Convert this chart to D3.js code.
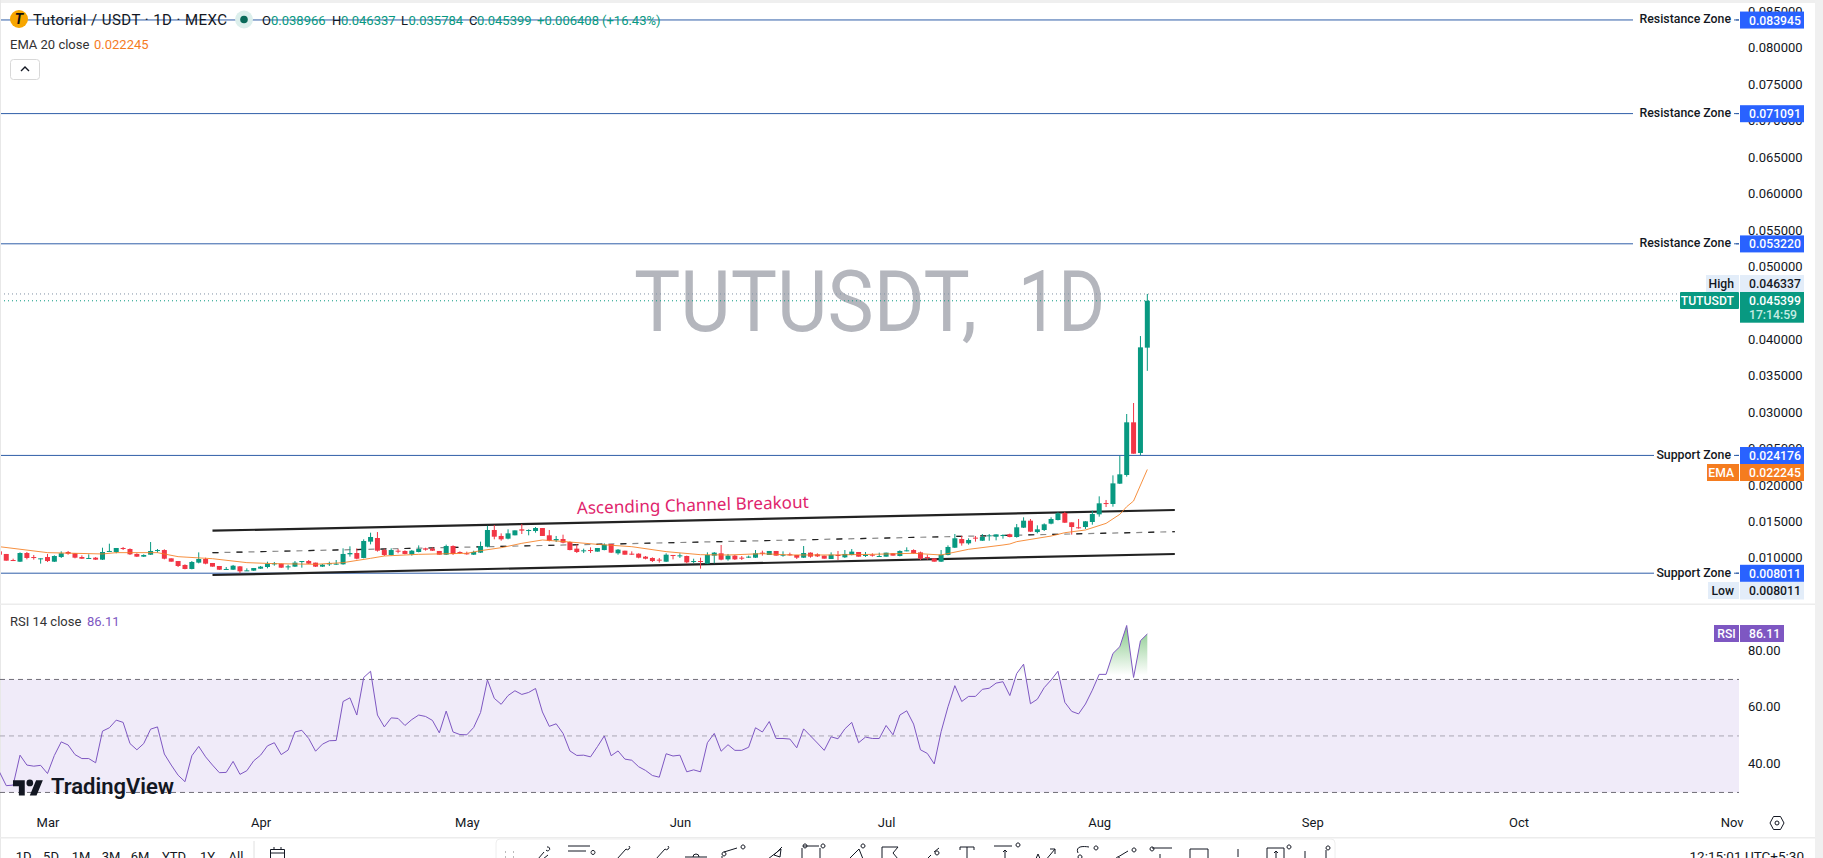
<!DOCTYPE html>
<html lang="en">
<head>
  <meta charset="UTF-8" />
  <title>TUTUSDT 1D</title>
  <script src="https://d3js.org/d3.v7.min.js"></script>
  <style>
    html, body { margin: 0; background: #fff; overflow: hidden; }
    svg { display: block; font-family: Roboto, sans-serif; }
    .axis path, .axis line { display: none; }
    .axis text { font-family: Roboto, sans-serif; font-size: 13px; fill: #131722; }
  </style>
</head>
<body>
<svg width="1823" height="858"></svg>
<script>
  // daily candles, 22 Feb to 8 Aug
  const firstDay = new Date(Date.UTC(2025, 1, 22));
  const lastDay = new Date(Date.UTC(2025, 7, 9));

  const opens = [
    0.01101,0.01065,0.00982,0.00959,0.01078,0.01023,0.00996,0.01023,0.00959,0.01023,
    0.01092,0.01074,0.01023,0.01000,0.01014,0.00987,0.01097,0.01092,0.01147,0.01133,
    0.01065,0.01028,0.01055,0.01110,0.01119,0.01005,0.00968,0.00914,0.00859,0.00946,
    0.00996,0.00941,0.00900,0.00849,0.00849,0.00895,0.00831,0.00836,0.00863,0.00886,
    0.00927,0.00932,0.00886,0.00891,0.00959,0.00968,0.00946,0.00891,0.00927,0.00923,
    0.00923,0.01060,0.01078,0.01010,0.01234,0.01284,0.01119,0.01051,0.01110,0.01106,
    0.01060,0.01092,0.01142,0.01138,0.01106,0.01055,0.01174,0.01092,0.01074,0.01055,
    0.01083,0.01165,0.01394,0.01312,0.01275,0.01321,0.01403,0.01380,0.01380,0.01421,
    0.01321,0.01252,0.01270,0.01229,0.01138,0.01106,0.01119,0.01097,0.01119,0.01202,
    0.01074,0.01110,0.01069,0.01069,0.01028,0.01010,0.00987,0.00959,0.01051,0.01037,
    0.01037,0.00959,0.00968,0.00932,0.01042,0.01074,0.00991,0.01042,0.01014,0.01019,
    0.01014,0.01083,0.01051,0.01106,0.01046,0.01060,0.01051,0.01014,0.01083,0.01060,
    0.01042,0.00996,0.01051,0.01019,0.01051,0.01092,0.01037,0.01055,0.01028,0.01028,
    0.01074,0.01037,0.01106,0.01119,0.01087,0.01023,0.01005,0.00959,0.01051,0.01151,
    0.01270,0.01211,0.01289,0.01247,0.01312,0.01302,0.01316,0.01335,0.01298,0.01426,
    0.01522,0.01366,0.01394,0.01481,0.01531,0.01627,0.01499,0.01431,0.01435,0.01504,
    0.01609,0.01764,0.01751,0.02030,0.02149,0.02872,0.02451,0.038966
  ];
  const highs = [
    0.01101,0.01065,0.01000,0.01087,0.01092,0.01051,0.01005,0.01065,0.01046,0.01101,
    0.01106,0.01078,0.01046,0.01060,0.01023,0.01151,0.01206,0.01147,0.01161,0.01142,
    0.01074,0.01060,0.01229,0.01133,0.01129,0.01005,0.00968,0.00923,0.00968,0.01087,
    0.01014,0.00941,0.00900,0.00886,0.00914,0.00900,0.00868,0.00872,0.00900,0.00959,
    0.00955,0.00932,0.00918,0.00968,0.00968,0.00982,0.00946,0.00927,0.00959,0.00982,
    0.01142,0.01170,0.01142,0.01266,0.01357,0.01366,0.01138,0.01142,0.01133,0.01115,
    0.01119,0.01183,0.01151,0.01156,0.01106,0.01193,0.01183,0.01101,0.01097,0.01110,
    0.01234,0.01453,0.01462,0.01348,0.01403,0.01389,0.01476,0.01403,0.01435,0.01421,
    0.01394,0.01312,0.01330,0.01238,0.01197,0.01138,0.01156,0.01147,0.01211,0.01202,
    0.01133,0.01110,0.01101,0.01074,0.01037,0.01019,0.01010,0.01074,0.01051,0.01074,
    0.01042,0.01000,0.01014,0.01087,0.01092,0.01188,0.01065,0.01051,0.01037,0.01042,
    0.01119,0.01110,0.01106,0.01106,0.01101,0.01083,0.01051,0.01174,0.01087,0.01074,
    0.01042,0.01087,0.01106,0.01119,0.01133,0.01092,0.01092,0.01074,0.01083,0.01083,
    0.01074,0.01115,0.01156,0.01129,0.01097,0.01055,0.01005,0.01119,0.01183,0.01339,
    0.01312,0.01280,0.01312,0.01339,0.01339,0.01334,0.01335,0.01344,0.01476,0.01568,
    0.01545,0.01458,0.01485,0.01568,0.01636,0.01645,0.01499,0.01545,0.01517,0.01659,
    0.01856,0.01806,0.02144,0.02414,0.02986,0.03137,0.04056,0.046337
  ];
  const lows = [
    0.01055,0.00973,0.00968,0.00955,0.00991,0.00987,0.00932,0.00955,0.00955,0.01010,
    0.01055,0.01005,0.00996,0.00996,0.00982,0.00982,0.01097,0.01074,0.01119,0.01051,
    0.01023,0.01023,0.01051,0.01083,0.00991,0.00959,0.00886,0.00854,0.00854,0.00936,
    0.00923,0.00891,0.00845,0.00849,0.00845,0.008011,0.00831,0.00831,0.00859,0.00868,
    0.00904,0.00872,0.00849,0.00886,0.00877,0.00927,0.00886,0.00886,0.00900,0.00914,
    0.00918,0.01028,0.00991,0.01005,0.01197,0.01097,0.01037,0.01046,0.01074,0.01060,
    0.01042,0.01087,0.01110,0.01106,0.01055,0.01051,0.01051,0.01065,0.01055,0.01051,
    0.01078,0.01156,0.01266,0.01247,0.01266,0.01321,0.01339,0.01321,0.01357,0.01312,
    0.01238,0.01229,0.01211,0.01115,0.01078,0.01078,0.01078,0.01097,0.01115,0.01078,
    0.01055,0.01055,0.01051,0.01005,0.00991,0.00955,0.00946,0.00955,0.00991,0.01010,
    0.00936,0.00936,0.00863,0.00927,0.00936,0.00978,0.00973,0.00982,0.00982,0.01010,
    0.01010,0.01042,0.01051,0.01042,0.01028,0.01042,0.00996,0.01010,0.01014,0.01023,
    0.01000,0.00996,0.00982,0.01010,0.01046,0.01028,0.01023,0.01028,0.01023,0.01028,
    0.01042,0.01032,0.01101,0.01069,0.00982,0.00987,0.00959,0.00955,0.01046,0.01147,
    0.01179,0.01193,0.01234,0.01243,0.01247,0.01252,0.01275,0.01293,0.01289,0.01421,
    0.01366,0.01348,0.01380,0.01472,0.01526,0.01490,0.01330,0.01412,0.01408,0.01467,
    0.01577,0.01709,0.01714,0.02025,0.02126,0.02441,0.02423,0.035784
  ];
  const closes = [
    0.01055,0.00973,0.00973,0.01078,0.01010,0.01014,0.01005,0.00968,0.01037,0.01074,
    0.01069,0.01014,0.01000,0.01010,0.00987,0.01092,0.01106,0.01147,0.01133,0.01060,
    0.01028,0.01051,0.01106,0.01119,0.01000,0.00959,0.00900,0.00859,0.00955,0.00996,
    0.00932,0.00891,0.00849,0.00859,0.00904,0.00827,0.00840,0.00872,0.00891,0.00932,
    0.00936,0.00877,0.00895,0.00946,0.00968,0.00932,0.00891,0.00918,0.00936,0.00932,
    0.01065,0.01078,0.01000,0.01243,0.01298,0.01110,0.01051,0.01119,0.01101,0.01065,
    0.01110,0.01133,0.01124,0.01110,0.01055,0.01174,0.01065,0.01078,0.01065,0.01092,
    0.01174,0.01394,0.01302,0.01266,0.01348,0.01389,0.01385,0.01394,0.01421,0.01312,
    0.01247,0.01270,0.01220,0.01119,0.01092,0.01115,0.01110,0.01147,0.01193,0.01083,
    0.01124,0.01055,0.01060,0.01014,0.01000,0.00968,0.00978,0.01055,0.01042,0.01046,
    0.00950,0.00968,0.00959,0.01051,0.01083,0.00987,0.01042,0.00991,0.01005,0.01028,
    0.01074,0.01069,0.01106,0.01042,0.01055,0.01051,0.01014,0.01078,0.01028,0.01032,
    0.01000,0.01055,0.01042,0.01065,0.01097,0.01028,0.01055,0.01046,0.01037,0.01083,
    0.01042,0.01106,0.01115,0.01074,0.01000,0.01014,0.00959,0.01055,0.01161,0.01280,
    0.01211,0.01257,0.01280,0.01298,0.01321,0.01334,0.01325,0.01298,0.01431,0.01522,
    0.01371,0.01403,0.01472,0.01545,0.01623,0.01494,0.01435,0.01421,0.01513,0.01613,
    0.01760,0.01755,0.02034,0.02158,0.02872,0.02441,0.03901,0.045399
  ];

  // EMA read at the bends of the orange line (candle number, price)
  const emaAt = [0,7,15,17,23,26,31,36,40,46,50,54,56,61,68,70,73,76,79,83,87,92,97,102,106,111,115,121,127,133,137,141,146,147,148,153,155,158,161,163,164,165,167];
  const emaValues = [0.01165,0.01083,0.01065,0.01083,0.01083,0.01028,0.01000,0.00946,0.00932,0.00923,0.00946,0.01005,0.01037,0.01060,0.01074,0.01110,0.01151,0.01211,0.01257,0.01229,0.01197,0.01165,0.01097,0.01055,0.01051,0.01069,0.01051,0.01051,0.01060,0.01074,0.01051,0.01129,0.01188,0.01202,0.01234,0.01311,0.01357,0.01394,0.01485,0.01609,0.01714,0.01792,0.022245];

  const rsiValues = [
    37.3,32.4,32.6,43.2,39.7,39.3,39.6,36.7,43.1,47.9,
    46.8,43.4,42.0,42.0,40.5,51.7,52.9,55.6,54.8,47.3,
    45.1,47.3,52.4,53.2,43.6,39.7,36.1,33.8,43.0,46.3,
    42.6,39.7,37.0,37.1,41.0,36.4,37.7,41.2,43.2,46.5,
    47.6,43.4,45.0,51.4,52.0,49.1,44.6,47.1,48.3,48.4,
    62.2,63.5,57.4,70.7,72.9,57.4,53.2,56.4,56.2,53.7,
    55.8,57.4,56.9,55.5,51.1,58.8,51.4,50.5,50.4,53.0,
    58.3,69.8,63.3,61.2,64.3,66.0,64.7,65.4,66.8,58.5,
    53.4,54.3,50.9,44.7,43.1,43.2,42.6,46.2,50.0,43.0,
    44.7,41.8,41.4,39.1,37.8,36.0,35.4,43.7,42.9,43.2,
    37.3,38.0,37.3,47.6,50.9,44.6,46.9,44.9,44.9,46.0,
    52.9,51.4,55.1,49.1,49.1,48.9,45.8,52.5,50.0,47.5,
    44.9,49.7,49.0,52.5,54.8,47.6,49.6,49.1,49.1,53.7,
    50.4,57.4,58.9,54.2,45.1,43.8,40.1,51.5,60.3,67.8,
    62.2,64.0,64.0,66.5,66.9,68.7,69.2,64.3,72.1,75.4,
    61.4,63.0,67.1,69.8,72.9,61.9,58.7,57.8,61.3,66.2,
    71.8,71.8,79.2,81.6,89.1,70.7,83.7,86.11
  ];

  const priceTicks = [0.01,0.015,0.02,0.025,0.03,0.035,0.04,0.05,0.055,0.06,0.065,0.07,0.075,0.08,0.085];
  const rsiTicks = [40, 60, 80];
  const rsiLevels = [70, 50, 30];
  const zoneNames = ["Resistance Zone","Resistance Zone","Resistance Zone","Support Zone","Support Zone"];
  const zoneValues = [0.083945, 0.071091, 0.05322, 0.024176, 0.008011];
  const channelDays = [new Date(Date.UTC(2025, 2, 25)), new Date(Date.UTC(2025, 7, 12))];
  const channelUpper = [0.013843, 0.016684];
  const channelMiddle = [0.010824, 0.013706];
  const channelLower = [0.007763, 0.010645];
  const rangeButtons = ["1D","5D","1M","3M","6M","YTD","1Y","All"];

  const green = "#089981", red = "#f23645", blue = "#2962ff", orange = "#f57c1f", purple = "#7e57c2";
  const zoneLine = "#2f5ea8";

  const svg = d3.select("svg");
  const days = d3.utcDay.range(firstDay, lastDay);

  const x = d3.scaleUtc()
    .domain([new Date(Date.UTC(2025, 2, 1)), new Date(Date.UTC(2025, 10, 1))])
    .range([47.5, 1731.6]);
  const y = d3.scaleLinear().domain([0.01, 0.08]).range([558.7, 48.7]);
  const yRsi = d3.scaleLinear().domain([40, 80]).range([764.2, 651.2]);

  const paneRight = 1739;

  // watermark
  svg.append("text")
    .attr("x", 634).attr("y", 331)
    .attr("font-size", 85)
    .attr("textLength", 343).attr("lengthAdjust", "spacingAndGlyphs")
    .attr("fill", "#b4b6bd")
    .text("TUTUSDT,");
  svg.append("text")
    .attr("x", 1018).attr("y", 331)
    .attr("font-size", 85)
    .attr("textLength", 87).attr("lengthAdjust", "spacingAndGlyphs")
    .attr("fill", "#b4b6bd")
    .text("1D");

  // zone lines
  svg.selectAll("line.zone").data(zoneValues).enter().append("line")
    .attr("class", "zone")
    .attr("x1", 0).attr("x2", paneRight)
    .attr("y1", d => y(d)).attr("y2", d => y(d))
    .attr("stroke", zoneLine).attr("stroke-width", 1);

  // high and last price dotted lines
  [[highs[highs.length - 1], "#7f8fa3"], [closes[closes.length - 1], green]].forEach(([v, c]) => {
    svg.append("line")
      .attr("x1", 0).attr("x2", 1680)
      .attr("y1", y(v)).attr("y2", y(v))
      .attr("stroke", c).attr("stroke-width", 1)
      .attr("stroke-dasharray", "1 3");
  });

  // channel
  const channelLine = (vals, color, width) => svg.append("line")
    .attr("x1", x(channelDays[0])).attr("x2", x(channelDays[1]))
    .attr("y1", y(vals[0])).attr("y2", y(vals[1]))
    .attr("stroke", color).attr("stroke-width", width);
  channelLine(channelUpper, "#222", 2.2);
  channelLine(channelLower, "#222", 2.2);
  channelLine(channelMiddle, "#8a8a8a", 1.2).attr("stroke-dasharray", "6 6");
  channelLine(channelMiddle, "#222", 1.2).attr("stroke-dasharray", "6 18");

  // candles
  const candle = svg.selectAll("g.candle").data(days).enter().append("g").attr("class", "candle");
  candle.append("line")
    .attr("x1", d => x(d)).attr("x2", d => x(d))
    .attr("y1", (d, i) => y(highs[i])).attr("y2", (d, i) => y(lows[i]))
    .attr("stroke", (d, i) => closes[i] >= opens[i] ? green : red);
  candle.append("rect")
    .attr("x", d => x(d) - 2.5)
    .attr("width", 5)
    .attr("y", (d, i) => y(Math.max(opens[i], closes[i])))
    .attr("height", (d, i) => Math.max(1, Math.abs(y(opens[i]) - y(closes[i]))))
    .attr("fill", (d, i) => closes[i] >= opens[i] ? green : red);

  // EMA
  svg.append("path")
    .attr("d", d3.line().x(i => x(days[i])).y((i, n) => y(emaValues[n]))(emaAt))
    .attr("fill", "none").attr("stroke", orange).attr("stroke-width", 1).attr("stroke-opacity", 0.85);

  // annotation
  svg.append("text")
    .attr("transform", "translate(577,514) rotate(-1.5)")
    .attr("font-size", 17)
    .attr("fill", "#e0246c")
    .attr("font-family", "Noto Sans, sans-serif")
    .attr("textLength", 232)
    .text("Ascending Channel Breakout");

  // chart legend
  svg.append("rect").attr("width", 1823).attr("height", 3).attr("fill", "#efefef");
  svg.append("rect").attr("x", 0).attr("width", 1).attr("height", 858).attr("fill", "#e8e8e8");
  svg.append("rect").attr("x", 1815).attr("width", 8).attr("height", 858).attr("fill", "#f0f0f0");

  svg.append("circle").attr("cx", 19).attr("cy", 19).attr("r", 9).attr("fill", "#f7a600");
  svg.append("text").attr("x", 19).attr("y", 24).attr("text-anchor", "middle")
    .attr("font-size", 14).attr("font-weight", 700).attr("font-style", "italic").attr("fill", "#111").text("T");
  svg.append("text").attr("x", 33).attr("y", 25).attr("font-size", 15).attr("fill", "#131722")
    .attr("textLength", 194).text("Tutorial / USDT · 1D · MEXC");
  svg.append("circle").attr("cx", 244).attr("cy", 19.5).attr("r", 9).attr("fill", "#dcefec");
  svg.append("circle").attr("cx", 244).attr("cy", 19.5).attr("r", 3.8).attr("fill", "#0a6a5a");

  const ohlc = [
    [262, "O", "#131722"], [271, "0.038966", green],
    [332, "H", "#131722"], [341, "0.046337", green],
    [401, "L", "#131722"], [408.5, "0.035784", green],
    [469, "C", "#131722"], [477, "0.045399", green],
    [537, "+0.006408", green], [602, "(+16.43%)", green]
  ];
  svg.selectAll("text.ohlc").data(ohlc).enter().append("text")
    .attr("class", "ohlc")
    .attr("x", d => d[0]).attr("y", 24.5)
    .attr("font-size", 13)
    .attr("fill", d => d[2])
    .text(d => d[1]);

  svg.append("text").attr("x", 10).attr("y", 48.5).attr("font-size", 13).attr("fill", "#333").text("EMA 20 close");
  svg.append("text").attr("x", 94).attr("y", 48.5).attr("font-size", 13).attr("fill", orange).text("0.022245");
  svg.append("rect").attr("x", 10.5).attr("y", 59.5).attr("width", 29).attr("height", 20).attr("rx", 3)
    .attr("fill", "#fff").attr("stroke", "#d8d8d8");
  svg.append("path").attr("d", "M21 71l4-4 4 4").attr("fill", "none").attr("stroke", "#131722").attr("stroke-width", 1.4);

  // price axis
  svg.append("g").attr("class", "axis")
    .attr("transform", "translate(1740,-1)")
    .call(d3.axisRight(y).tickValues(priceTicks).tickSize(0).tickPadding(8).tickFormat(d3.format(".6f")));

  // price labels on the axis
  function priceBox(top, h, right, fill, textFill, value, name, nameLeft) {
    svg.append("rect").attr("x", 1740).attr("y", top).attr("width", right - 1740).attr("height", h).attr("fill", fill);
    svg.append("text").attr("x", 1749).attr("y", top + 13).attr("font-size", 12.2).attr("font-weight", 500).attr("fill", textFill).text(value);
    if (name) {
      svg.append("rect").attr("x", nameLeft).attr("y", top).attr("width", 1739 - nameLeft).attr("height", 17).attr("fill", fill);
      svg.append("text").attr("x", 1734).attr("y", top + 13).attr("text-anchor", "end")
        .attr("font-size", 12.2).attr("font-weight", 500).attr("fill", textFill).text(name);
    }
  }

  // zone labels
  zoneValues.forEach((v, i) => {
    const w = zoneNames[i].startsWith("R") ? 101 : 80;
    svg.append("rect").attr("x", 1734 - w).attr("y", y(v) - 9).attr("width", w).attr("height", 18).attr("fill", "#fff");
    svg.append("text").attr("x", 1731).attr("y", y(v) + 3.5).attr("text-anchor", "end")
      .attr("font-size", 12.3).attr("font-weight", 500).attr("fill", "#131722").text(zoneNames[i]);
    svg.append("line").attr("x1", 1736).attr("x2", 1739).attr("y1", y(v)).attr("y2", y(v)).attr("stroke", zoneLine);
    priceBox(y(v) - 8.4, 17, 1804, blue, "#fff", d3.format(".6f")(v));
  });

  const pale = "#e3edf9";
  priceBox(275, 17, 1804, pale, "#131722", d3.format(".6f")(highs[highs.length - 1]), "High", 1706);
  priceBox(582, 17.5, 1804, pale, "#131722", d3.format(".6f")(lows[35]), "Low", 1708);
  priceBox(292, 30.7, 1804, green, "#fff", d3.format(".6f")(closes[closes.length - 1]));
  svg.append("rect").attr("x", 1680).attr("y", 292).attr("width", 59).attr("height", 17).attr("rx", 1).attr("fill", green);
  svg.append("text").attr("x", 1734).attr("y", 305).attr("text-anchor", "end").attr("font-size", 12.2).attr("font-weight", 500)
    .attr("fill", "#fff").text("TUTUSDT");
  svg.append("text").attr("x", 1749).attr("y", 319).attr("font-size", 12.2).attr("font-weight", 500).attr("fill", "#c4ece3").text("17:14:59");
  priceBox(464, 17, 1804, orange, "#fff", d3.format(".6f")(emaValues[emaValues.length - 1]), "EMA", 1707);

  // separator between panes
  svg.append("rect").attr("x", 0).attr("y", 603.5).attr("width", 1815).attr("height", 1.5).attr("fill", "#ececec");

  // RSI pane
  svg.append("rect").attr("x", 1).attr("y", yRsi(70)).attr("width", paneRight - 1)
    .attr("height", yRsi(30) - yRsi(70)).attr("fill", "#f0ebf9");
  svg.selectAll("line.level").data(rsiLevels).enter().append("line")
    .attr("class", "level")
    .attr("x1", 0).attr("x2", paneRight)
    .attr("y1", d => yRsi(d)).attr("y2", d => yRsi(d))
    .attr("stroke", d => d === 50 ? "#a9a6b3" : "#706e78")
    .attr("stroke-dasharray", "5 4");

  const defs = svg.append("defs");
  const grad = defs.append("linearGradient").attr("id", "overbought")
    .attr("gradientUnits", "userSpaceOnUse")
    .attr("x1", 0).attr("x2", 0).attr("y1", yRsi(88)).attr("y2", yRsi(71.5));
  grad.append("stop").attr("offset", 0).attr("stop-color", "#4caf50").attr("stop-opacity", 0.65);
  grad.append("stop").attr("offset", 1).attr("stop-color", "#4caf50").attr("stop-opacity", 0);
  defs.append("clipPath").attr("id", "above70").append("rect")
    .attr("x", 0).attr("y", 605).attr("width", paneRight).attr("height", yRsi(70) - 605);

  svg.append("path")
    .attr("d", d3.area().x(d => x(d)).y0(yRsi(70)).y1((d, i) => yRsi(rsiValues[i]))(days))
    .attr("fill", "url(#overbought)")
    .attr("clip-path", "url(#above70)");
  svg.append("path")
    .attr("d", d3.line().x(d => x(d)).y((d, i) => yRsi(rsiValues[i]))(days))
    .attr("fill", "none").attr("stroke", purple).attr("stroke-width", 1);

  svg.append("text").attr("x", 10).attr("y", 626).attr("font-size", 13).attr("fill", "#333").text("RSI 14 close");
  svg.append("text").attr("x", 87).attr("y", 626).attr("font-size", 13).attr("fill", purple).text(rsiValues[rsiValues.length - 1]);

  svg.append("g").attr("class", "axis")
    .attr("transform", "translate(1740,-1)")
    .call(d3.axisRight(yRsi).tickValues(rsiTicks).tickSize(0).tickPadding(8).tickFormat(d3.format(".2f")));
  svg.append("rect").attr("x", 1714).attr("y", 625).attr("width", 25).attr("height", 17).attr("fill", purple);
  svg.append("rect").attr("x", 1740).attr("y", 625).attr("width", 44).attr("height", 17).attr("fill", purple);
  svg.append("text").attr("x", 1726.5).attr("y", 638).attr("text-anchor", "middle").attr("font-size", 12.2).attr("font-weight", 500).attr("fill", "#fff").text("RSI");
  svg.append("text").attr("x", 1749).attr("y", 638).attr("font-size", 12.2).attr("font-weight", 500).attr("fill", "#fff").text(rsiValues[rsiValues.length - 1]);

  // TradingView mark
  const logo = svg.append("g").attr("transform", "translate(13,777) scale(0.84)").attr("fill", "#131722");
  logo.append("path").attr("d", "M14 22H7V11H0V4h14v18zM28 22h-8l7.5-18h8L28 22z");
  logo.append("circle").attr("cx", 20).attr("cy", 7).attr("r", 4);
  svg.append("text").attr("x", 51).attr("y", 794).attr("font-size", 22).attr("font-weight", 600)
    .attr("textLength", 123).attr("fill", "#131722").text("TradingView");

  // time axis
  const months = d3.utcMonth.range(x.domain()[0], new Date(Date.UTC(2025, 10, 2)));
  svg.append("g").attr("class", "axis")
    .attr("transform", "translate(0,812)")
    .call(d3.axisBottom(x).tickValues(months).tickSize(0).tickPadding(6).tickFormat(d3.utcFormat("%b")));
  const gear = svg.append("g").attr("transform", "translate(1777,823)").attr("fill", "none").attr("stroke", "#131722");
  gear.append("path").attr("d", "M-7 0L-3.5-6.5H3.5L7 0L3.5 6.5H-3.5Z");
  gear.append("circle").attr("r", 2);

  // bottom bar, cut off by the window like in the screenshot
  svg.append("rect").attr("x", 0).attr("y", 837).attr("width", 1815).attr("height", 1.5).attr("fill", "#ececec");
  const buttonX = [23.7, 51, 81, 111, 140, 174, 207.6, 236];
  svg.selectAll("text.range").data(rangeButtons).enter().append("text")
    .attr("class", "range")
    .attr("x", (d, i) => buttonX[i]).attr("y", 861)
    .attr("text-anchor", "middle").attr("font-size", 13).attr("fill", "#131722").text(d => d);
  svg.append("line").attr("x1", 254).attr("x2", 254).attr("y1", 841).attr("y2", 858).attr("stroke", "#e0e0e0");
  svg.append("path").attr("d", "M270.5 858V849.5H284.5V858M270.5 853H284.5M274 847V850M281 847V850")
    .attr("fill", "none").attr("stroke", "#131722");

  svg.append("rect").attr("x", 496).attr("y", 839).attr("width", 839).attr("height", 30).attr("rx", 4)
    .attr("fill", "#fff").attr("stroke", "#eeeeee");
  const toolX = [545,579,623,662,696,732,775,811,857,890,933,967,1005,1043,1085,1123,1160,1199,1238,1276,1315];
  const toolIcons = [
    "M-7 10L-1 3M1 1A2 2 0 1 0 2-2M-2 10L3 6",
    "M-11-3H11M-11 2H7M12 3.5A2 2 0 1 0 12 3.4",
    "M-6 10L3 0M3 0A2 2 0 1 0 6-3",
    "M-6 10L3 0M3 0A2 2 0 1 0 6-3",
    "M-11 8H11M-3 8A3 3 0 0 1 3 8",
    "M-10 5A2 2 0 1 0-10 4.9M-8 3L5-1M9-2A2 2 0 1 0 9-2.1M-10 7V12",
    "M-7 10L6 0L5 8L-1 6L7-2",
    "M-8-3H8M-9-1V12M9-1V12M-8-3A2 2 0 1 0-8-3.1M10-3A2 2 0 1 0 10-3.1",
    "M-8 10L2 0L6 10M4-3A2 2 0 1 0 4-3.1",
    "M-8 12V-2H8L3 4L8 10",
    "M-6 10L-2 6M1 3L6-1M2 4A2 2 0 1 0 2 3.9",
    "M-7-2V1M-7-2H7V1M0-2V12",
    "M-11-3H7M0 12V1M-2 3L0 1L2 3M11-4A2 2 0 1 0 11-4.1",
    "M-8 12L-5 5L-2 12M2 12L12 0M7 0H12V5",
    "M-7 8A2 2 0 1 0-7 7.9M-7 4C-10-3-2-3 4-2M9-1A2 2 0 1 0 9-1.1",
    "M-7 10A2 2 0 1 0-7 9.9M-5 8L5 2M9 1A2 2 0 1 0 9 .9",
    "M-8-1H12M-10 0A2 2 0 1 0-10-.1M0 5V12H6",
    "M-9 12V0H9V12",
    "M0 0V8M-2 11A2 2 0 1 0 2 11",
    "M-9 12V-1H8V12M0 11V2M-2 4L0 2L2 4M11-2A2 2 0 1 0 11-2.1",
    "M-10 12V2M-10 12H8M5 10L8 12L5 14M11-1A2 2 0 1 0 11-1.1M11 1V10"
  ];
  svg.selectAll("path.tool").data(toolIcons).enter().append("path")
    .attr("class", "tool")
    .attr("transform", (d, i) => `translate(${toolX[i]},849)`)
    .attr("d", d => d)
    .attr("fill", "none").attr("stroke", "#131722").attr("stroke-width", 1);
  svg.append("path").attr("d", "M505 852h1M513 852h1M505 857h1M513 857h1").attr("stroke", "#bbb").attr("stroke-width", 2);

  svg.append("text").attr("x", 1804).attr("y", 861).attr("text-anchor", "end").attr("font-size", 13.5)
    .attr("fill", "#131722").text("12:15:01 UTC+5:30");
</script>
</body>
</html>
